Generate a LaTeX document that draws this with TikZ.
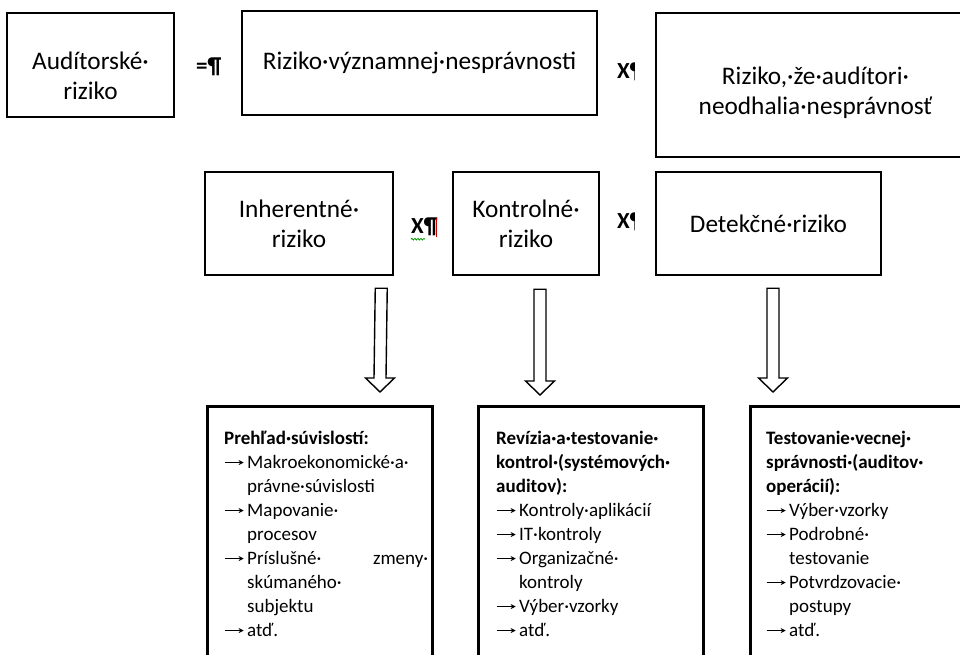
\documentclass[tikz,border=0pt]{standalone}
\usepackage{fontspec}
\setmainfont{Carlito}
\usetikzlibrary{calc,arrows.meta,decorations.pathmorphing}
\newcommand\tabarrow{\makebox[23pt][l]{\tikz[baseline=-0.6ex]\draw[line width=0.9pt,-{Stealth[length=5pt,width=5pt]}] (0pt,0pt) -- (19pt,0pt);}}
\newcommand\indentline{\hspace*{23pt}}
\newcommand\lowerby[1]{\rule{0pt}{#1}}
\newcommand\hollowarrow[2]{\draw[hollow] ($(#1)+(-6,0)$) -- ($(#2)+(-6,-14)$) -- ($(#2)+(-14.5,-14)$) -- (#2) -- ($(#2)+(14.5,-14)$) -- ($(#2)+(6,-14)$) -- ($(#1)+(6,0)$) -- cycle;}
\tikzset{
  frame/.style={draw=black, line width=2.5pt, inner sep=0pt},
  toptext/.style={font=\fontsize{25.3}{30}\selectfont, align=center},
  opsign/.style={font=\bfseries\fontsize{23}{26}\selectfont, inner sep=0pt},
  listtext/.style={font=\fontsize{19}{24}\selectfont, text width=215pt, align=left, inner sep=0pt},
  hollow/.style={draw=black, line width=1.4pt, fill=white, line join=miter},
}
\begin{document}
\begin{tikzpicture}[x=1pt,y=-1pt]
\useasboundingbox (0,0) rectangle (960,655);
\clip (0,0) rectangle (960,655);
\fill[white] (0,0) rectangle (960,655);

% row 1
\node[frame, toptext, minimum width=167pt, minimum height=104pt] (aud) at (90.5,65) {\lowerby{40pt}Audítorské·\\riziko};
\node[frame, toptext, minimum width=355pt, minimum height=104pt] (rvn) at (419.5,63) {Riziko·významnej·nesprávnosti};
\node[frame, toptext, minimum width=319pt, minimum height=144pt] (rna) at (815.5,85) {\lowerby{33pt}Riziko,·že·audítori·\\neodhalia·nesprávnosť};
\node[opsign, anchor=west] (eq) at (196,67) {=¶};
\begin{scope}
  \clip (612,50) rectangle (634,95);
  \node[opsign, anchor=west] (x1) at (617,72) {X¶};
\end{scope}

% row 2
\node[frame, toptext, minimum width=188pt, minimum height=103pt] (inh) at (299,223.5) {Inherentné·\\riziko};
\node[frame, toptext, minimum width=146pt, minimum height=103pt] (kon) at (526,223.5) {Kontrolné·\\riziko};
\node[frame, toptext, minimum width=225pt, minimum height=103pt] (det) at (768.5,223.5) {Detekčné·riziko};
\node[opsign, anchor=west] (x2) at (411,227) {X¶};
\draw[green!60!black, line width=0.8pt, decorate, decoration={snake, amplitude=0.8pt, segment length=3pt}] ($(x2.south west)+(0,3)$) -- ($(x2.south west)+(14,3)$);
\draw[red!80!black, line width=0.8pt] ($(x2.east)+(-1,-9)$) -- ($(x2.east)+(-1,10)$);
\begin{scope}
  \clip (612,200) rectangle (634,245);
  \node[opsign, anchor=west] (x3) at (617,222) {X¶};
\end{scope}

% row 3 boxes
\node[frame, minimum width=225pt, minimum height=270pt, anchor=north west] (b1) at (206,405) {};
\node[frame, minimum width=225pt, minimum height=270pt, anchor=north west] (b2) at (477,405) {};
\node[frame, minimum width=226pt, minimum height=270pt, anchor=north west] (b3) at (749,405) {};

% arrows
\coordinate (a1s) at ($(inh.south east)+(-13,12)$);
\coordinate (a1e) at ($(b1.north west)+(174,-13)$);
\coordinate (a2s) at ($(kon.south)+(14,13)$);
\coordinate (a2e) at ($(b2.north west)+(63,-10)$);
\coordinate (a3s) at ($(det.south)+(4.5,12)$);
\coordinate (a3e) at ($(b3.north west)+(24,-13)$);
\hollowarrow{a1s}{a1e}
\hollowarrow{a2s}{a2e}
\hollowarrow{a3s}{a3e}

% list texts
\node[listtext, anchor=base west] (t1) at (224,444) {\textbf{Prehľad·súvislostí:}\\\tabarrow Makroekonomické·a·\\\indentline právne·súvislosti\\\tabarrow Mapovanie·\\\indentline procesov\\\tabarrow\makebox[181pt][s]{Príslušné·\hfill zmeny·}\\\indentline skúmaného·\\\indentline subjektu\\\tabarrow atď.};
\node[listtext, anchor=base west] (t2) at (496,444) {\textbf{Revízia·a·testovanie·}\\\textbf{kontrol·(systémových·}\\\textbf{auditov):}\\\tabarrow Kontroly·aplikácií\\\tabarrow IT·kontroly\\\tabarrow Organizačné·\\\indentline kontroly\\\tabarrow Výber·vzorky\\\tabarrow atď.};
\node[listtext, anchor=base west] (t3) at (766,444) {\textbf{Testovanie·vecnej·}\\\textbf{správnosti·(auditov·}\\\textbf{operácií):}\\\tabarrow Výber·vzorky\\\tabarrow Podrobné·\\\indentline testovanie\\\tabarrow Potvrdzovacie·\\\indentline postupy\\\tabarrow atď.};
\end{tikzpicture}
\end{document}
